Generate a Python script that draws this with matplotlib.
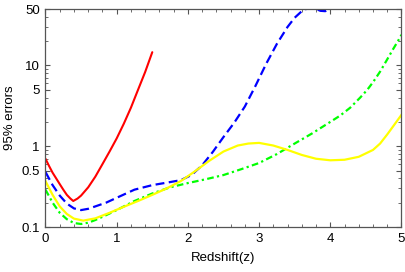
"""Redshift vs 95% errors for four survey configurations."""

import matplotlib
matplotlib.use("Agg")
import matplotlib.pyplot as plt
from matplotlib.ticker import FixedLocator, MultipleLocator, NullFormatter

plt.rcParams["font.family"] = ["Liberation Sans", "DejaVu Sans"]

# ---------------------------------------------------------------------------
# Data
# ---------------------------------------------------------------------------
red_z = [0.0, 0.05, 0.1, 0.15, 0.2, 0.25, 0.3, 0.35, 0.39, 0.45, 0.5, 0.6, 0.7,
         0.8, 0.9, 1.0, 1.1, 1.2, 1.3, 1.4, 1.5]
red_err = [0.70, 0.57, 0.47, 0.40, 0.34, 0.29, 0.25, 0.225, 0.21, 0.225, 0.245,
           0.31, 0.42, 0.60, 0.86, 1.25, 1.9, 3.0, 5.0, 8.3, 14.6]

blue_z = [0.0, 0.1, 0.2, 0.3, 0.4, 0.5, 0.6, 0.7, 0.85, 1.0, 1.25, 1.5, 1.75,
          1.9, 2.05, 2.2, 2.35, 2.5, 2.65, 2.8, 2.95, 3.1, 3.25, 3.4, 3.5,
          3.6, 3.7, 3.78, 3.86, 3.93, 4.0]
blue_err = [0.48, 0.33, 0.245, 0.195, 0.17, 0.162, 0.168, 0.18, 0.2, 0.23, 0.29,
            0.33, 0.36, 0.38, 0.44, 0.58, 0.85, 1.3, 1.95, 3.1, 5.6, 10.5,
            18.5, 30.0, 39.0, 47.0, 52.0, 51.0, 47.5, 47.0, 51.0]

green_z = [0.0, 0.1, 0.2, 0.3, 0.4, 0.5, 0.6, 0.7, 0.85, 1.0, 1.25, 1.5, 1.75,
           2.0, 2.25, 2.5, 2.75, 3.0, 3.25, 3.5, 3.75, 3.85, 4.0, 4.14, 4.28,
           4.42, 4.52, 4.6, 4.7, 4.79, 4.88, 4.95, 5.0]
green_err = [0.29, 0.2, 0.15, 0.125, 0.112, 0.109, 0.113, 0.122, 0.14, 0.162,
             0.21, 0.26, 0.31, 0.35, 0.39, 0.44, 0.52, 0.62, 0.8, 1.08, 1.45,
             1.65, 2.0, 2.4, 3.0, 4.0, 5.0, 6.2, 8.4, 11.5, 15.8, 20.0, 24.0]

yellow_z = [0.0, 0.1, 0.2, 0.3, 0.4, 0.53, 0.7, 0.9, 1.1, 1.3, 1.5, 1.7, 1.9,
            2.1, 2.3, 2.5, 2.7, 2.85, 3.0, 3.2, 3.4, 3.6, 3.8, 4.0, 4.2, 4.4,
            4.6, 4.7, 4.8, 4.9, 5.0]
yellow_err = [0.37, 0.25, 0.18, 0.145, 0.127, 0.12, 0.128, 0.15, 0.178, 0.21,
              0.25, 0.3, 0.37, 0.49, 0.66, 0.86, 1.02, 1.08, 1.1, 1.02, 0.9,
              0.78, 0.7, 0.67, 0.68, 0.74, 0.9, 1.08, 1.4, 1.85, 2.45]

y_ticks = [0.1, 0.5, 1, 5, 10, 50]
y_tick_labels = ["0.1", "0.5", "1", "5", "10", "50"]
x_ticks = [0, 1, 2, 3, 4, 5]


def main() -> None:
    fig = plt.figure(figsize=(4.05, 2.72), dpi=100)
    ax = fig.add_axes([0.1123, 0.1654, 0.8790, 0.8015])

    ax.plot(red_z, red_err, color="#ff0000", lw=1.5, solid_capstyle="round")
    ax.plot(blue_z, blue_err, color="#0000ff", lw=1.6, dashes=(4, 2))
    ax.plot(green_z, green_err, color="#00ff00", lw=1.6, dashes=(3, 1.5, 1, 1.5))
    ax.plot(yellow_z, yellow_err, color="#ffff00", lw=1.6)

    ax.set_yscale("log")
    ax.set_xlim(0, 5)
    ax.set_ylim(0.1, 50)

    ax.yaxis.set_major_locator(FixedLocator(y_ticks))
    ax.set_yticklabels(y_tick_labels)
    minor = [v * 10 ** e for e in (-1, 0, 1) for v in range(2, 10)]
    minor = [m for m in minor if 0.1 <= m <= 50 and m not in y_ticks]
    ax.yaxis.set_minor_locator(FixedLocator(minor))
    ax.yaxis.set_minor_formatter(NullFormatter())

    ax.set_xticks(x_ticks)
    ax.xaxis.set_minor_locator(MultipleLocator(0.2))

    ax.tick_params(which="both", direction="in", top=True, right=True,
                   labelsize=9.5, colors="#555555", labelcolor="black")
    ax.tick_params(which="major", length=3.5, width=0.8, pad=4)
    ax.tick_params(which="minor", length=2, width=0.6)
    for spine in ax.spines.values():
        spine.set_color("#555555")
        spine.set_linewidth(0.9)

    ax.set_xlabel("Redshift(z)", fontsize=9.5, labelpad=5)
    ax.set_ylabel("95% errors", fontsize=9.5, labelpad=4)

    fig.savefig("out.png", dpi=100)


if __name__ == "__main__":
    main()
